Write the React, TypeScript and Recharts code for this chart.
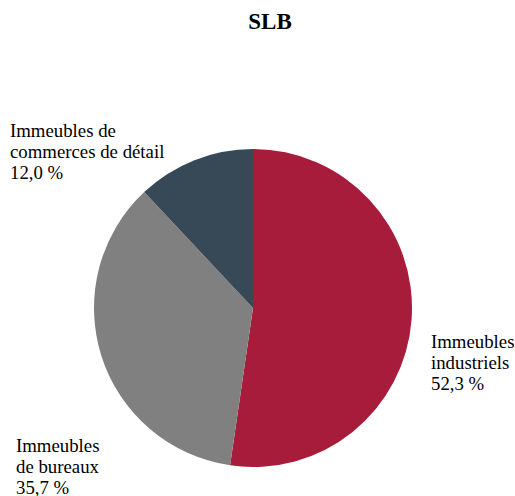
import { PieChart, Pie, Cell } from "recharts";

const categories = ["Immeubles industriels", "Immeubles de bureaux", "Immeubles de commerces de détail"];
const values = [52.3, 35.7, 12.0];
const labelLines = [
  ["Immeubles", "industriels"],
  ["Immeubles", "de bureaux"],
  ["Immeubles de", "commerces de détail"],
];
const colors = ["#A61C3A", "#808080", "#374956"];

// label anchor offsets from pie centre (x, first-baseline y)
const labelOffsets = [
  [178, 40],
  [-237, 144],
  [-243, -171],
];

const data = categories.map((name, i) => ({ name, value: values[i] }));

const fmt = (v: number) => v.toFixed(1).replace(".", ",") + " %";

const serif = "'Liberation Serif', 'Times New Roman', serif";

function renderLabel(props: any) {
  const { cx, cy, index, value } = props;
  const [dx, dy] = labelOffsets[index];
  const lines = [...labelLines[index], fmt(value)];
  return (
    <g key={`lbl-${index}`}>
      {lines.map((l, i) => (
        <text
          key={i}
          x={cx + dx}
          y={cy + dy + i * 21}
          textAnchor="start"
          style={{ fontFamily: serif, fontSize: 18.8, fill: "#000" }}
        >
          {l}
        </text>
      ))}
    </g>
  );
}

export default function App() {
  return (
    <div style={{ width: 515, height: 496, background: "#fff" }}>
      <style>{"body{margin:0}"}</style>
      <PieChart width={515} height={496} margin={{ top: 0, right: 0, bottom: 0, left: 0 }}>
        <text
          x={270}
          y={29}
          textAnchor="middle"
          style={{ fontFamily: serif, fontWeight: "bold", fontSize: 23, fill: "#000" }}
        >
          SLB
        </text>
        <Pie
          data={data}
          dataKey="value"
          nameKey="name"
          cx={253}
          cy={308}
          outerRadius={159}
          startAngle={90}
          endAngle={-270}
          stroke="none"
          label={renderLabel}
          labelLine={false}
          isAnimationActive={false}
        >
          {data.map((d, i) => (
            <Cell key={d.name} fill={colors[i]} />
          ))}
        </Pie>
      </PieChart>
    </div>
  );
}
